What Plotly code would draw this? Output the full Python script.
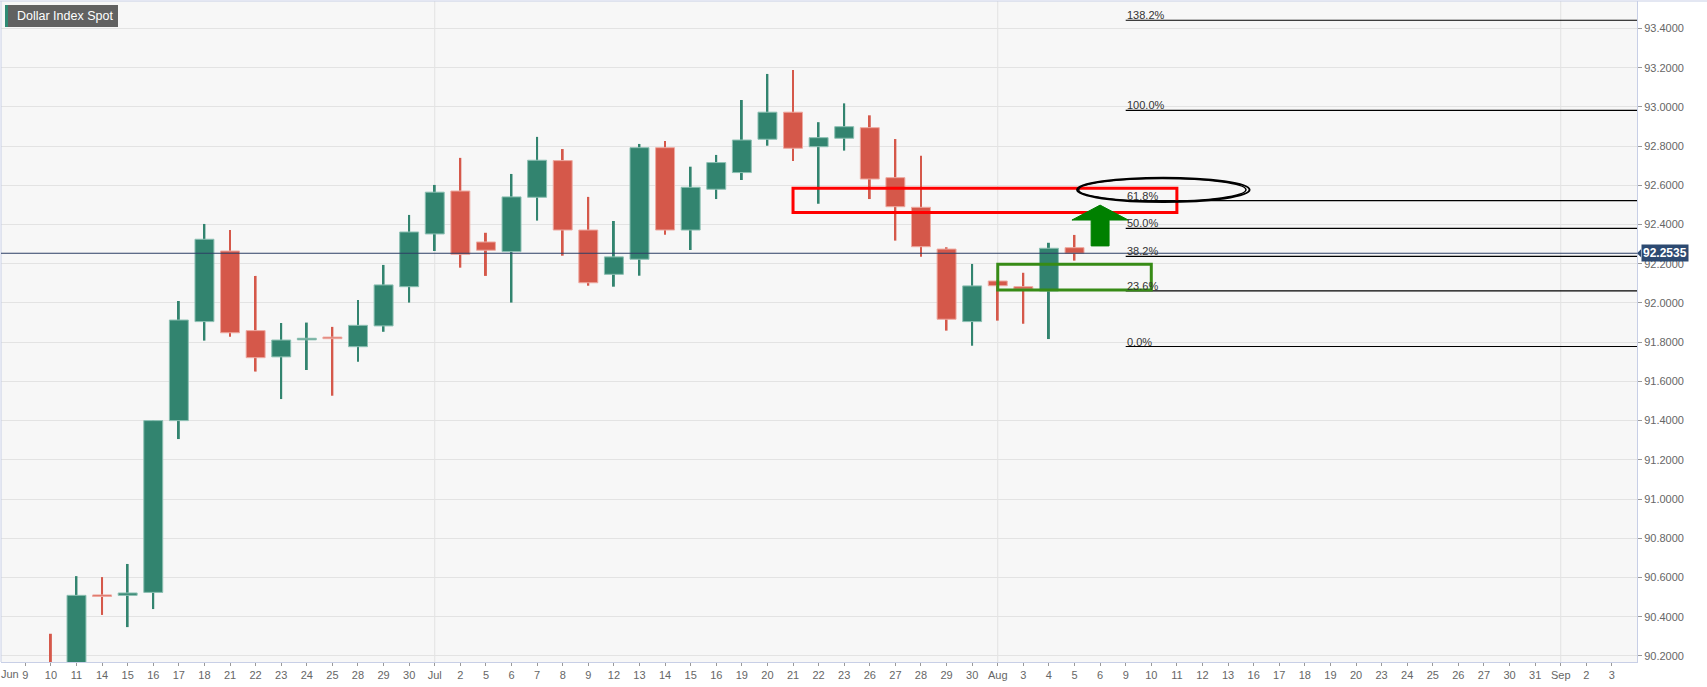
import plotly.graph_objects as go

# ---------------- data ----------------
# trading-day axis shown on the chart (Jun 9 - Sep 3, 2021)
AXIS_DATES = [
    "2021-06-09", "2021-06-10", "2021-06-11", "2021-06-14", "2021-06-15", "2021-06-16", "2021-06-17",
    "2021-06-18", "2021-06-21", "2021-06-22", "2021-06-23", "2021-06-24", "2021-06-25", "2021-06-28",
    "2021-06-29", "2021-06-30", "2021-07-01", "2021-07-02", "2021-07-05", "2021-07-06", "2021-07-07",
    "2021-07-08", "2021-07-09", "2021-07-12", "2021-07-13", "2021-07-14", "2021-07-15", "2021-07-16",
    "2021-07-19", "2021-07-20", "2021-07-21", "2021-07-22", "2021-07-23", "2021-07-26", "2021-07-27",
    "2021-07-28", "2021-07-29", "2021-07-30", "2021-08-02", "2021-08-03", "2021-08-04", "2021-08-05",
    "2021-08-06", "2021-08-09", "2021-08-10", "2021-08-11", "2021-08-12", "2021-08-13", "2021-08-16",
    "2021-08-17", "2021-08-18", "2021-08-19", "2021-08-20", "2021-08-23", "2021-08-24", "2021-08-25",
    "2021-08-26", "2021-08-27", "2021-08-30", "2021-08-31", "2021-09-01", "2021-09-02", "2021-09-03",
]
TICK_LABELS = [
    "9", "10", "11", "14", "15", "16", "17", "18", "21", "22", "23", "24", "25", "28", "29", "30",
    "Jul", "2", "5", "6", "7", "8", "9", "12", "13", "14", "15", "16", "19", "20", "21", "22", "23",
    "26", "27", "28", "29", "30",
    "Aug", "3", "4", "5", "6", "9", "10", "11", "12", "13", "16", "17", "18", "19", "20", "23", "24",
    "25", "26", "27", "30", "31",
    "Sep", "2", "3",
]
FIRST_MONTH_LABEL = "Jun"
MONTH_STARTS = ["2021-07-01", "2021-08-02", "2021-09-01"]

DATES = [
    "2021-06-10", "2021-06-11", "2021-06-14", "2021-06-15", "2021-06-16", "2021-06-17", "2021-06-18",
    "2021-06-21", "2021-06-22", "2021-06-23", "2021-06-24", "2021-06-25", "2021-06-28", "2021-06-29",
    "2021-06-30", "2021-07-01", "2021-07-02", "2021-07-05", "2021-07-06", "2021-07-07", "2021-07-08",
    "2021-07-09", "2021-07-12", "2021-07-13", "2021-07-14", "2021-07-15", "2021-07-16", "2021-07-19",
    "2021-07-20", "2021-07-21", "2021-07-22", "2021-07-23", "2021-07-26", "2021-07-27", "2021-07-28",
    "2021-07-29", "2021-07-30", "2021-08-02", "2021-08-03", "2021-08-04", "2021-08-05",
]
OPEN = [
    90.150, 90.080, 90.507, 90.509, 90.524, 91.400, 91.905,
    92.265, 91.859, 91.725, 91.812, 91.822, 91.777, 91.883,
    92.083, 92.352, 92.571, 92.311, 92.262, 92.539, 92.726,
    92.372, 92.146, 92.223, 92.792, 92.372, 92.580, 92.665,
    92.835, 92.973, 92.797, 92.840, 92.894, 92.639, 92.488,
    92.275, 91.905, 92.112, 92.083, 92.061, 92.282,
]
HIGH = [
    90.313, 90.607, 90.602, 90.669, 91.402, 92.010, 92.403,
    92.372, 92.138, 91.898, 91.900, 91.878, 92.015, 92.194,
    92.449, 92.602, 92.740, 92.358, 92.658, 92.847, 92.785,
    92.541, 92.418, 92.811, 92.826, 92.695, 92.755, 93.035,
    93.168, 93.188, 92.922, 93.018, 92.957, 92.836, 92.751,
    92.284, 92.199, 92.115, 92.154, 92.307, 92.347,
]
LOW = [
    89.990, 90.030, 90.409, 90.347, 90.439, 91.306, 91.808,
    91.828, 91.650, 91.510, 91.658, 91.527, 91.700, 91.853,
    92.002, 92.265, 92.180, 92.138, 92.002, 92.420, 92.241,
    92.088, 92.083, 92.139, 92.348, 92.270, 92.530, 92.627,
    92.802, 92.724, 92.506, 92.777, 92.530, 92.318, 92.236,
    91.859, 91.782, 91.910, 91.894, 91.816, 92.216,
]
CLOSE = [
    90.080, 90.509, 90.503, 90.521, 91.400, 91.913, 92.325,
    91.848, 91.721, 91.811, 91.816, 91.818, 91.886, 92.092,
    92.362, 92.565, 92.248, 92.269, 92.541, 92.728, 92.372,
    92.103, 92.235, 92.792, 92.372, 92.590, 92.716, 92.831,
    92.973, 92.789, 92.843, 92.899, 92.632, 92.491, 92.287,
    91.917, 92.087, 92.088, 92.071, 92.279, 92.2535,
]
LAST_PRICE = 92.2535
TITLE = "Dollar Index Spot"

# Fibonacci retracement drawn on the chart
FIB_LOW = 91.778
FIB_HIGH = 92.982
FIB_RATIOS = [0.0, 0.236, 0.382, 0.5, 0.618, 1.0, 1.382]
FIB_LABELS = ["0.0%", "23.6%", "38.2%", "50.0%", "61.8%", "100.0%", "138.2%"]
FIB_START = "2021-08-09"

# hand-drawn annotations (date span, price span)
RED_ZONE = ("2021-07-21", "2021-08-11", 92.461, 92.585)
GREEN_ZONE = ("2021-08-02", "2021-08-10", 92.066, 92.197)
ELLIPSE = ("2021-08-05", "2021-08-16", 92.515, 92.639)
ARROW = ("2021-08-06", 92.291, 92.423, 92.499)

# ---------------- styling ----------------
UP, DOWN = "#32846f", "#d5584a"
UP_EDGE, DOWN_EDGE = "#8cc0b3", "#eea9a0"
FONT = "Liberation Sans, Arial, sans-serif"
X_MIN, X_MAX = -0.95, 62.98
Y_MIN, Y_MAX = 90.169, 93.540
PLOT_W, PLOT_H = 1636, 661

pos = {d: i for i, d in enumerate(AXIS_DATES)}
xs = [pos[d] for d in DATES]
is_up = [c >= o for o, c in zip(OPEN, CLOSE)]
colors = [UP if u else DOWN for u in is_up]
edges = [UP_EDGE if u else DOWN_EDGE for u in is_up]
MIN_BODY = 0.008
body_base = [min(o, c) for o, c in zip(OPEN, CLOSE)]
body_h = [max(abs(c - o), MIN_BODY) for o, c in zip(OPEN, CLOSE)]
wick_h = [h - l for h, l in zip(HIGH, LOW)]

fig = go.Figure()
fig.add_trace(go.Bar(x=xs, y=wick_h, base=LOW, width=0.075,
                     marker=dict(color=colors, line=dict(width=0)), hoverinfo="skip"))
fig.add_trace(go.Bar(x=xs, y=body_h, base=body_base, width=0.74,
                     marker=dict(color=colors, line=dict(color=edges, width=1)),
                     customdata=list(zip(OPEN, HIGH, LOW, CLOSE)),
                     hovertemplate="O %{customdata[0]}<br>H %{customdata[1]}<br>L %{customdata[2]}<br>C %{customdata[3]}<extra></extra>"))

shapes = []
# month separators
for d in MONTH_STARTS:
    shapes.append(dict(type="line", xref="x", yref="paper", x0=pos[d], x1=pos[d], y0=0, y1=1,
                       line=dict(color="#e2e2e2", width=1), layer="below"))
# frame (top / left)
shapes.append(dict(type="line", xref="paper", yref="paper", x0=-0.001, x1=1 + 70 / PLOT_W, y0=1, y1=1,
                   line=dict(color="#c8cfe6", width=1)))
shapes.append(dict(type="line", xref="paper", yref="paper", x0=0, x1=0, y0=0, y1=1,
                   line=dict(color="#c8cfe6", width=1)))
# fib lines
fib_levels = [FIB_LOW + r * (FIB_HIGH - FIB_LOW) for r in FIB_RATIOS]
for lv in fib_levels:
    shapes.append(dict(type="line", xref="x", yref="y", x0=pos[FIB_START], x1=X_MAX, y0=lv, y1=lv,
                       line=dict(color="#000000", width=1.2)))
# last price line
shapes.append(dict(type="line", xref="paper", yref="y", x0=0, x1=1, y0=LAST_PRICE, y1=LAST_PRICE,
                   line=dict(color="#2c3f66", width=1)))
# price tag notch
shapes.append(dict(type="path", xref="paper", yref="y",
                   path=f"M 1,{LAST_PRICE} L {1 + 4 / PLOT_W},{LAST_PRICE + 0.02} L {1 + 4 / PLOT_W},{LAST_PRICE - 0.02} Z",
                   fillcolor="#2d4a71", line=dict(width=0)))
# red zone
shapes.append(dict(type="rect", xref="x", yref="y", x0=pos[RED_ZONE[0]], x1=pos[RED_ZONE[1]],
                   y0=RED_ZONE[2], y1=RED_ZONE[3], line=dict(color="#ff0000", width=3)))
# green zone
shapes.append(dict(type="rect", xref="x", yref="y", x0=pos[GREEN_ZONE[0]], x1=pos[GREEN_ZONE[1]],
                   y0=GREEN_ZONE[2], y1=GREEN_ZONE[3], line=dict(color="#378b16", width=3)))
# ellipse
shapes.append(dict(type="circle", xref="x", yref="y", x0=pos[ELLIPSE[0]] + 0.1, x1=pos[ELLIPSE[1]] - 0.16,
                   y0=ELLIPSE[2], y1=ELLIPSE[3], line=dict(color="#000000", width=2)))
shapes.append(dict(type="circle", xref="x", yref="y", x0=pos[ELLIPSE[0]] + 0.16, x1=pos[ELLIPSE[1]] - 0.3,
                   y0=ELLIPSE[2] + 0.004, y1=ELLIPSE[3] - 0.004, line=dict(color="#000000", width=1.5)))
# up arrow
ax = pos[ARROW[0]]
sw, hw = 0.35, 1.1
y_bot, y_head, y_tip = ARROW[1], ARROW[2], ARROW[3]
shapes.append(dict(type="path", xref="x", yref="y",
                   path=(f"M {ax - sw},{y_bot} L {ax - sw},{y_head} L {ax - hw},{y_head} L {ax},{y_tip} "
                         f"L {ax + hw},{y_head} L {ax + sw},{y_head} L {ax + sw},{y_bot} Z"),
                   fillcolor="#008000", line=dict(color="#008000", width=1)))
# title box
shapes.append(dict(type="rect", xref="paper", yref="paper", x0=4 / PLOT_W, x1=117 / PLOT_W,
                   y0=1 - 26 / PLOT_H, y1=1 - 4 / PLOT_H, fillcolor="#616161", line=dict(width=0)))
shapes.append(dict(type="rect", xref="paper", yref="paper", x0=4 / PLOT_W, x1=7 / PLOT_W,
                   y0=1 - 26 / PLOT_H, y1=1 - 4 / PLOT_H, fillcolor="#2f8a74", line=dict(width=0)))

annotations = []
for lv, lab in zip(fib_levels, FIB_LABELS):
    annotations.append(dict(x=pos[FIB_START], y=lv, xref="x", yref="y", text=lab, showarrow=False,
                            xanchor="left", yanchor="bottom", xshift=-1, yshift=-3,
                            font=dict(family=FONT, size=11, color="#333333")))
annotations.append(dict(x=1, y=LAST_PRICE, xref="paper", yref="y", text=f"<b>{LAST_PRICE:.4f}</b>",
                        showarrow=False, xanchor="left", yanchor="middle", xshift=4,
                        bgcolor="#2d4a71", borderpad=1,
                        font=dict(family=FONT, size=12, color="#ffffff")))
annotations.append(dict(x=14 / PLOT_W, y=1 - 15 / PLOT_H, xref="paper", yref="paper", text=TITLE,
                        showarrow=False, xanchor="left", yanchor="middle",
                        font=dict(family=FONT, size=12.5, color="#ffffff")))
annotations.append(dict(x=0, y=0, xref="paper", yref="paper", text=FIRST_MONTH_LABEL, showarrow=False,
                        xanchor="left", yanchor="middle", xshift=-2, yshift=-12,
                        font=dict(family=FONT, size=11, color="#666666")))

fig.update_layout(
    width=1707, height=687,
    margin=dict(l=1, r=70, t=1, b=25),
    paper_bgcolor="#ffffff", plot_bgcolor="#f7f7f7",
    showlegend=False, barmode="overlay",
    font=dict(family=FONT, size=11, color="#666666"),
    shapes=shapes, annotations=annotations,
    xaxis=dict(range=[X_MIN, X_MAX], tickmode="array", tickvals=list(range(len(AXIS_DATES))),
               ticktext=TICK_LABELS, tickangle=0, showgrid=False, zeroline=False,
               ticks="outside", ticklen=3, tickcolor="#999999", showline=True, linecolor="#c8cfe6",
               tickfont=dict(family=FONT, size=11, color="#666666"), fixedrange=True),
    yaxis=dict(range=[Y_MIN, Y_MAX], side="right", tick0=90.2, dtick=0.2, tickformat=".4f",
               showgrid=True, gridcolor="#e3e3e3", zeroline=False, ticks="outside", ticklen=4,
               tickcolor="#999999", showline=True, linecolor="#c8cfe6",
               tickfont=dict(family=FONT, size=11, color="#666666"), fixedrange=True),
)

fig.write_html("out.html", config={"displayModeBar": False},
               post_script="document.body.style.margin='0px';document.body.style.overflow='hidden';")
